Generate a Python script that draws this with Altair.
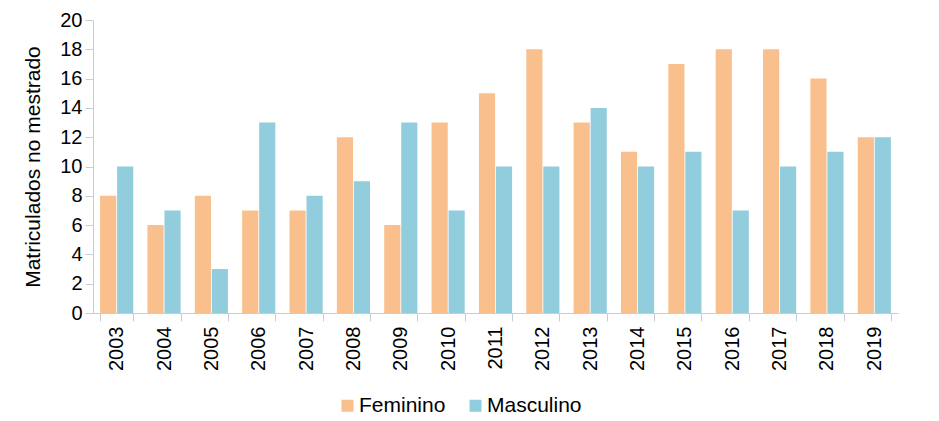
import altair as alt
import pandas as pd

years = [str(y) for y in range(2003, 2020)]
feminino = [8, 6, 8, 7, 7, 12, 6, 13, 15, 18, 13, 11, 17, 18, 18, 16, 12]
masculino = [10, 7, 3, 13, 8, 9, 13, 7, 10, 10, 14, 10, 11, 7, 10, 11, 12]
series = ["Feminino", "Masculino"]
colors = ["#F9BF8C", "#92CDDD"]

rows = []
for i, y in enumerate(years):
    rows.append({"Ano": y, "Sexo": series[0], "Valor": feminino[i]})
    rows.append({"Ano": y, "Sexo": series[1], "Valor": masculino[i]})
df = pd.DataFrame(rows)

font = "Liberation Sans"

chart = alt.Chart(df).mark_bar().encode(
    x=alt.X("Ano:N", sort=years, title=None,
            scale=alt.Scale(paddingInner=0.3, paddingOuter=0.15),
            axis=alt.Axis(labelAngle=-90, labelFontSize=20, labelColor="#000000",
                          labelFont=font, tickBand="extent", tickSize=8,
                          domainColor="#C8CCD4", tickColor="#C8CCD4", labelPadding=5)),
    xOffset=alt.XOffset("Sexo:N", sort=series, scale=alt.Scale(paddingInner=0.05)),
    y=alt.Y("Valor:Q", title="Matriculados no mestrado",
            scale=alt.Scale(domain=[0, 20]),
            axis=alt.Axis(values=list(range(0, 21, 2)), grid=False, labelFontSize=20,
                          labelColor="#000000", labelFont=font, titleFont=font,
                          titleFontSize=21, titleFontWeight="normal", titleColor="#000000",
                          tickSize=8, domainColor="#C8CCD4", tickColor="#C8CCD4",
                          titlePadding=16, labelPadding=3)),
    color=alt.Color("Sexo:N", sort=series,
                    scale=alt.Scale(domain=series, range=colors),
                    legend=alt.Legend(orient="none", legendX=244, legendY=375,
                                      direction="horizontal", title=None,
                                      symbolType="square", symbolSize=144,
                                      symbolStrokeWidth=0, labelOffset=1,
                                      labelFontSize=21, labelFont=font, labelColor="#000000",
                                      columnPadding=19)),
).properties(
    width=805, height=293,
    padding={"left": 14, "top": 2, "right": 5, "bottom": 5},
).configure_view(stroke=None)

chart.save("out.html", embed_options={"renderer": "svg", "actions": False})
